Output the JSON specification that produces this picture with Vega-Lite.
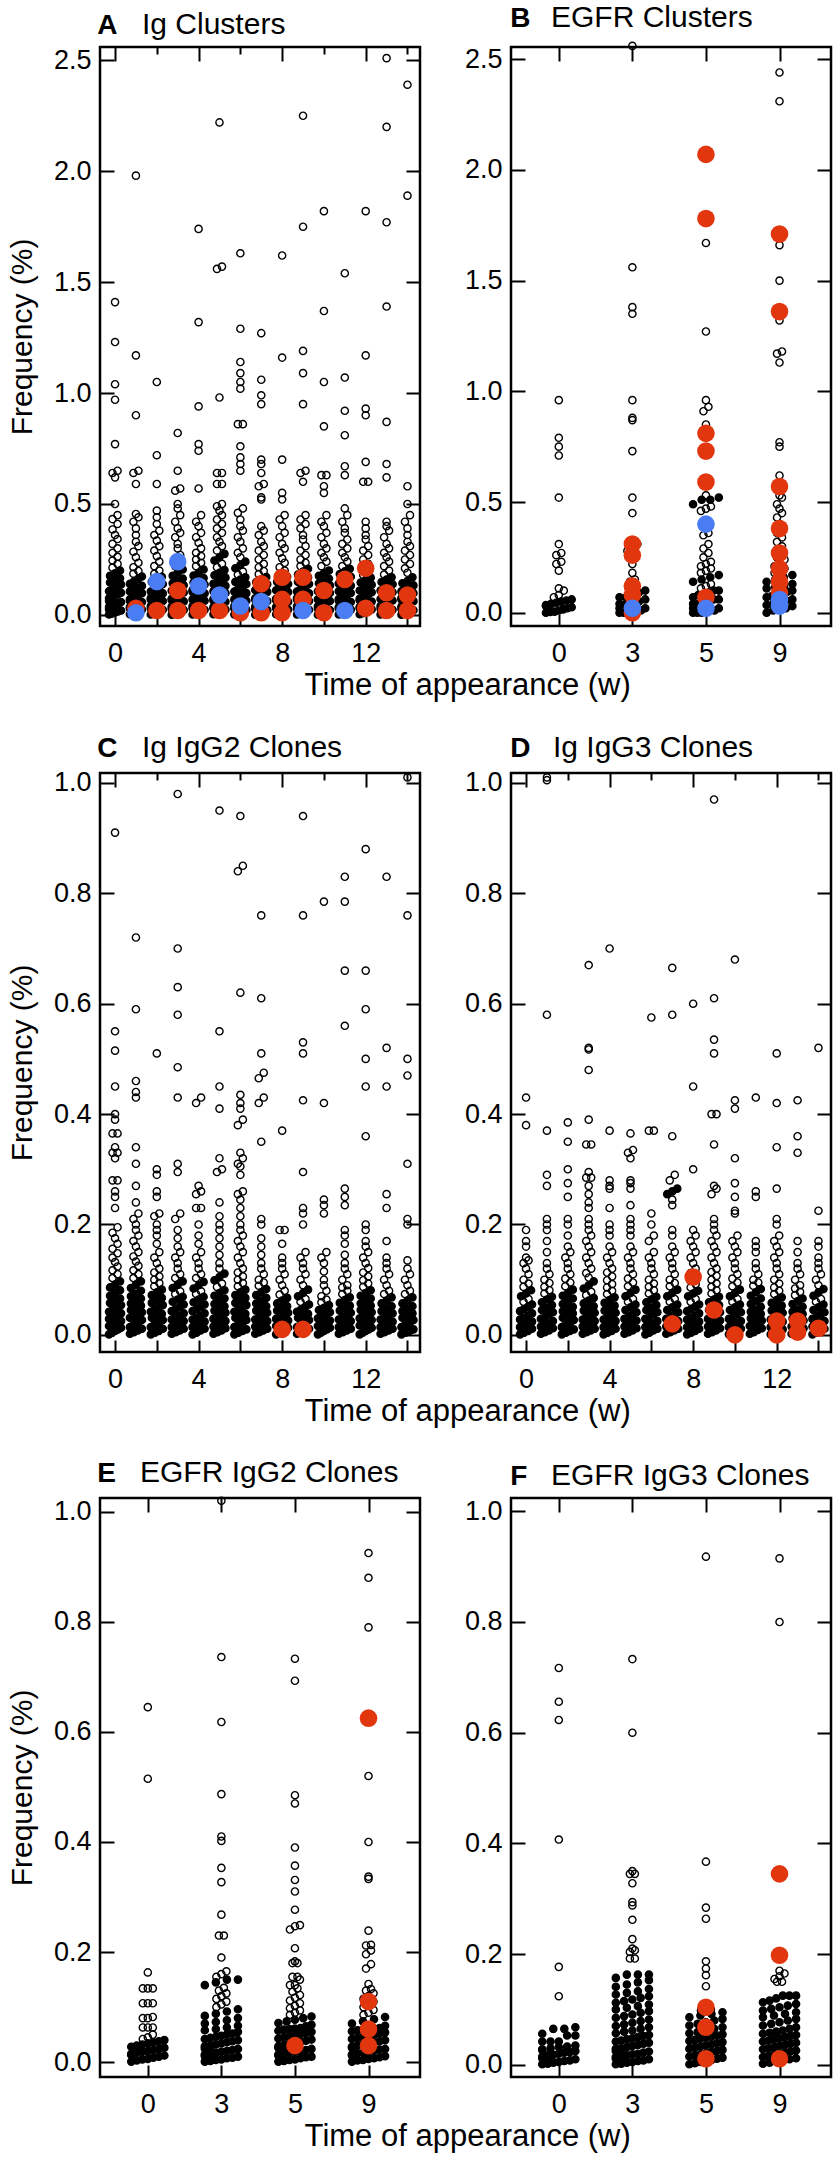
{
  "$schema": "https://vega.github.io/schema/vega-lite/v6.json",
  "background": "white",
  "padding": {"left": 6, "top": 2, "right": 4, "bottom": 2},
  "spacing": 29,
  "config": {
    "font": "Liberation Sans",
    "view": {"stroke": "black", "strokeWidth": 2.5},
    "axis": {"domain": false, "grid": false, "tickColor": "black", "tickWidth": 2, "labelColor": "black", "labelFontSize": 27, "labelFont": "Liberation Sans", "labelFlush": false, "labelOverlap": false, "titleFont": "Liberation Sans", "titleFontSize": 30, "titleFontWeight": "normal", "titleColor": "black"},
    "title": {"font": "Liberation Sans", "color": "black", "anchor": "start", "frame": "group", "fontSize": 30, "fontWeight": "normal", "offset": 6}
  },
  "vconcat": [
    {
      "title": {"text": "Time of appearance (w)", "orient": "bottom", "anchor": "middle", "frame": "bounds", "dx": 48, "fontSize": 31, "fontWeight": "normal", "offset": 4},
      "spacing": 40,
      "hconcat": [
        {
          "title": {"text": "A", "anchor": "start", "frame": "bounds", "fontSize": 28, "fontWeight": "bold", "dx": 91, "offset": -31},
          "vconcat": [
            {
              "width": 320, "height": 579,
              "title": {"text": "Ig Clusters", "dx": 42},
              "resolve": {"axis": {"x": "independent", "y": "independent"}},
              "layer": [
                {
                  "data": {"values": "w,f\n0,.002\n0,.006\n0,.011\n0,.016\n0,.02\n0,.025\n0,.031\n0,.036\n0,.041\n0,.047\n0,.052\n0,.058\n0,.063\n0,.069\n0,.075\n0,.081\n0,.087\n0,.093\n0,.1\n0,.107\n0,.114\n0,.121\n0,.129\n0,.137\n0,.146\n0,.155\n0,.165\n0,.176\n0,.188\n0,.2\n0,.213\n0,.23\n0,.245\n0,.262\n0,.28\n0,.3\n0,.32\n0,.342\n0,.36\n0,.385\n0,.41\n0,.432\n0,.45\n0,.5\n0,.62\n0,.64\n0,.65\n0,.77\n0,.97\n0,1.04\n0,1.23\n0,1.41\n1,.003\n1,.008\n1,.013\n1,.018\n1,.024\n1,.029\n1,.035\n1,.04\n1,.046\n1,.052\n1,.058\n1,.064\n1,.07\n1,.077\n1,.084\n1,.091\n1,.098\n1,.106\n1,.114\n1,.122\n1,.131\n1,.14\n1,.15\n1,.161\n1,.173\n1,.186\n1,.198\n1,.215\n1,.235\n1,.26\n1,.285\n1,.31\n1,.33\n1,.36\n1,.39\n1,.42\n1,.44\n1,.455\n1,.59\n1,.64\n1,.65\n1,.9\n1,1.17\n1,1.98\n2,.002\n2,.007\n2,.012\n2,.017\n2,.023\n2,.028\n2,.034\n2,.04\n2,.045\n2,.051\n2,.057\n2,.063\n2,.069\n2,.076\n2,.083\n2,.09\n2,.097\n2,.105\n2,.113\n2,.121\n2,.13\n2,.139\n2,.149\n2,.16\n2,.172\n2,.185\n2,.2\n2,.22\n2,.24\n2,.265\n2,.29\n2,.31\n2,.335\n2,.36\n2,.38\n2,.41\n2,.44\n2,.47\n2,.59\n2,.72\n2,1.05\n3,.001\n3,.006\n3,.011\n3,.017\n3,.022\n3,.027\n3,.033\n3,.038\n3,.044\n3,.05\n3,.055\n3,.061\n3,.067\n3,.073\n3,.08\n3,.087\n3,.094\n3,.101\n3,.109\n3,.117\n3,.125\n3,.134\n3,.143\n3,.153\n3,.164\n3,.176\n3,.19\n3,.205\n3,.22\n3,.235\n3,.25\n3,.27\n3,.3\n3,.32\n3,.35\n3,.37\n3,.39\n3,.42\n3,.45\n3,.48\n3,.5\n3,.56\n3,.57\n3,.65\n3,.82\n4,.002\n4,.007\n4,.012\n4,.018\n4,.023\n4,.029\n4,.034\n4,.04\n4,.046\n4,.052\n4,.058\n4,.064\n4,.07\n4,.076\n4,.083\n4,.09\n4,.097\n4,.104\n4,.112\n4,.12\n4,.128\n4,.137\n4,.146\n4,.156\n4,.166\n4,.177\n4,.19\n4,.205\n4,.22\n4,.235\n4,.25\n4,.265\n4,.28\n4,.3\n4,.325\n4,.35\n4,.37\n4,.4\n4,.42\n4,.45\n4,.57\n4,.74\n4,.77\n4,.94\n4,1.32\n4,1.74\n5,.003\n5,.008\n5,.013\n5,.019\n5,.024\n5,.03\n5,.035\n5,.041\n5,.047\n5,.053\n5,.059\n5,.065\n5,.071\n5,.078\n5,.085\n5,.092\n5,.099\n5,.107\n5,.115\n5,.123\n5,.131\n5,.14\n5,.149\n5,.158\n5,.168\n5,.179\n5,.19\n5,.202\n5,.215\n5,.23\n5,.245\n5,.26\n5,.275\n5,.29\n5,.31\n5,.33\n5,.35\n5,.37\n5,.39\n5,.41\n5,.43\n5,.45\n5,.47\n5,.49\n5,.5\n5,.59\n5,.59\n5,.64\n5,.64\n5,.98\n5,1.56\n5,1.57\n5,2.22\n6,.002\n6,.007\n6,.012\n6,.018\n6,.023\n6,.029\n6,.034\n6,.04\n6,.046\n6,.052\n6,.058\n6,.064\n6,.07\n6,.077\n6,.084\n6,.091\n6,.098\n6,.105\n6,.113\n6,.121\n6,.13\n6,.139\n6,.149\n6,.159\n6,.17\n6,.182\n6,.195\n6,.21\n6,.225\n6,.24\n6,.26\n6,.28\n6,.3\n6,.33\n6,.35\n6,.38\n6,.4\n6,.43\n6,.46\n6,.48\n6,.65\n6,.68\n6,.71\n6,.76\n6,.86\n6,.86\n6,1.02\n6,1.05\n6,1.09\n6,1.14\n6,1.29\n6,1.63\n7,.001\n7,.006\n7,.011\n7,.016\n7,.022\n7,.027\n7,.032\n7,.038\n7,.044\n7,.05\n7,.056\n7,.062\n7,.068\n7,.075\n7,.082\n7,.089\n7,.096\n7,.104\n7,.112\n7,.12\n7,.129\n7,.138\n7,.148\n7,.159\n7,.171\n7,.184\n7,.198\n7,.215\n7,.23\n7,.25\n7,.27\n7,.29\n7,.31\n7,.33\n7,.36\n7,.38\n7,.4\n7,.52\n7,.53\n7,.58\n7,.59\n7,.64\n7,.68\n7,.7\n7,.95\n7,.99\n7,1.06\n7,1.27\n8,.003\n8,.008\n8,.013\n8,.019\n8,.024\n8,.03\n8,.035\n8,.041\n8,.047\n8,.053\n8,.059\n8,.066\n8,.073\n8,.08\n8,.087\n8,.095\n8,.103\n8,.111\n8,.12\n8,.129\n8,.139\n8,.149\n8,.16\n8,.172\n8,.185\n8,.2\n8,.215\n8,.235\n8,.255\n8,.28\n8,.3\n8,.32\n8,.35\n8,.37\n8,.4\n8,.43\n8,.45\n8,.52\n8,.55\n8,.7\n8,1.16\n8,1.62\n9,.002\n9,.007\n9,.012\n9,.017\n9,.023\n9,.028\n9,.034\n9,.039\n9,.045\n9,.051\n9,.057\n9,.063\n9,.069\n9,.076\n9,.083\n9,.09\n9,.097\n9,.105\n9,.113\n9,.121\n9,.13\n9,.139\n9,.149\n9,.159\n9,.17\n9,.182\n9,.195\n9,.208\n9,.22\n9,.235\n9,.25\n9,.27\n9,.29\n9,.31\n9,.34\n9,.36\n9,.39\n9,.41\n9,.43\n9,.45\n9,.6\n9,.64\n9,.65\n9,.95\n9,1.09\n9,1.19\n9,1.75\n9,2.25\n10,.001\n10,.006\n10,.012\n10,.017\n10,.022\n10,.028\n10,.033\n10,.039\n10,.045\n10,.051\n10,.057\n10,.063\n10,.07\n10,.077\n10,.084\n10,.091\n10,.099\n10,.107\n10,.115\n10,.124\n10,.133\n10,.143\n10,.153\n10,.164\n10,.176\n10,.188\n10,.2\n10,.22\n10,.24\n10,.26\n10,.28\n10,.3\n10,.32\n10,.35\n10,.37\n10,.4\n10,.42\n10,.45\n10,.55\n10,.58\n10,.63\n10,.63\n10,.85\n10,1.05\n10,1.37\n10,1.82\n11,.002\n11,.008\n11,.013\n11,.018\n11,.024\n11,.029\n11,.035\n11,.041\n11,.046\n11,.052\n11,.058\n11,.064\n11,.071\n11,.078\n11,.085\n11,.092\n11,.099\n11,.107\n11,.115\n11,.123\n11,.132\n11,.141\n11,.151\n11,.161\n11,.172\n11,.184\n11,.196\n11,.208\n11,.22\n11,.24\n11,.26\n11,.28\n11,.3\n11,.32\n11,.34\n11,.37\n11,.39\n11,.42\n11,.45\n11,.48\n11,.63\n11,.67\n11,.81\n11,.92\n11,1.07\n11,1.54\n12,.003\n12,.008\n12,.014\n12,.019\n12,.025\n12,.03\n12,.036\n12,.042\n12,.048\n12,.054\n12,.06\n12,.066\n12,.073\n12,.08\n12,.087\n12,.094\n12,.102\n12,.11\n12,.118\n12,.127\n12,.136\n12,.146\n12,.157\n12,.168\n12,.18\n12,.193\n12,.21\n12,.23\n12,.25\n12,.27\n12,.29\n12,.31\n12,.34\n12,.36\n12,.39\n12,.42\n12,.6\n12,.6\n12,.69\n12,.9\n12,.93\n12,1.17\n12,1.82\n13,.002\n13,.007\n13,.012\n13,.017\n13,.023\n13,.028\n13,.034\n13,.04\n13,.046\n13,.052\n13,.058\n13,.065\n13,.072\n13,.079\n13,.086\n13,.094\n13,.102\n13,.11\n13,.119\n13,.128\n13,.138\n13,.148\n13,.159\n13,.17\n13,.182\n13,.2\n13,.22\n13,.24\n13,.26\n13,.28\n13,.3\n13,.32\n13,.35\n13,.38\n13,.4\n13,.42\n13,.62\n13,.68\n13,.87\n13,1.39\n13,1.77\n13,2.2\n13,2.51\n14,.001\n14,.006\n14,.011\n14,.016\n14,.021\n14,.027\n14,.032\n14,.038\n14,.044\n14,.05\n14,.056\n14,.062\n14,.069\n14,.076\n14,.083\n14,.09\n14,.098\n14,.106\n14,.115\n14,.124\n14,.133\n14,.143\n14,.153\n14,.17\n14,.19\n14,.21\n14,.23\n14,.25\n14,.27\n14,.29\n14,.31\n14,.33\n14,.36\n14,.39\n14,.42\n14,.45\n14,.5\n14,.58\n14,1.89\n14,2.39", "format": {"type": "csv", "parse": {"w": "number", "f": "number"}}},
                  "transform": [
                    {"bin": {"step": 0.035}, "field": "f", "as": "fb"},
                    {"window": [{"op": "row_number", "as": "r"}], "groupby": ["w", "fb"], "sort": [{"field": "f", "order": "ascending"}]},
                    {"joinaggregate": [{"op": "count", "as": "n"}], "groupby": ["w", "fb"]},
                    {"calculate": "min(datum.n, 5)", "as": "k"},
                    {"calculate": "datum.w + ((datum.r - 1) % 5 - (datum.k - 1) / 2) * (datum.k <= 3 ? 0.24 : 0.575 / (datum.k - 1))", "as": "x"}
                  ],
                  "mark": {"type": "point", "shape": "circle", "filled": false, "stroke": "black", "strokeWidth": 1.4, "size": 52, "opacity": 1},
                  "encoding": {
                    "x": {"field": "x", "type": "quantitative", "scale": {"domain": [-0.72, 14.6], "nice": false, "zero": false}, "axis": {"orient": "bottom", "values": [0, 2, 4, 6, 8, 10, 12, 14], "labelExpr": "datum.value % 4 == 0 ? datum.label : ''", "tickSize": -12, "labelPadding": 26, "title": null}},
                    "y": {"field": "f", "type": "quantitative", "scale": {"domain": [-0.05, 2.56], "nice": false, "zero": false}, "axis": {"orient": "left", "values": [0, 0.5, 1, 1.5, 2, 2.5], "format": ".1f", "tickSize": -14, "labelPadding": 23, "title": "Frequency (%)", "titlePadding": 16}},
                    "fill": {"condition": {"test": "datum.k >= 3", "value": "black"}, "value": "transparent"}
                  }
                },
                {
                  "data": {"values": "w,f,c\n1,.03,r\n2,.02,r\n3,.11,r\n3,.02,r\n4,.02,r\n5,.02,r\n6,.01,r\n7,.14,r\n7,.01,r\n8,.17,r\n8,.07,r\n8,.01,r\n9,.17,r\n9,.07,r\n10,.11,r\n10,.01,r\n11,.16,r\n12,.21,r\n12,.03,r\n13,.1,r\n13,.02,r\n14,.09,r\n14,.02,r\n1,.01,b\n2,.15,b\n3,.24,b\n4,.13,b\n5,.09,b\n6,.04,b\n7,.06,b\n9,.02,b\n11,.02,b", "format": {"type": "csv", "parse": {"w": "number", "f": "number"}}},
                  "mark": {"type": "circle", "size": 310, "opacity": 1},
                  "encoding": {
                    "x": {"field": "w", "type": "quantitative", "axis": {"orient": "top", "values": [0, 2, 4, 6, 8, 10, 12, 14], "labels": false, "tickSize": {"condition": {"test": "datum.value % 4 == 0", "value": -14}, "value": -7}, "title": null}},
                    "y": {"field": "f", "type": "quantitative", "axis": {"orient": "right", "values": [0, 0.5, 1, 1.5, 2, 2.5], "labels": false, "tickSize": -14, "title": null}},
                    "color": {"field": "c", "type": "nominal", "scale": {"domain": ["r", "b"], "range": ["#e2360f", "#4a7cf3"]}, "legend": null}
                  }
                }
              ]
            }
          ]
        },
        {
          "title": {"text": "B", "anchor": "start", "frame": "bounds", "fontSize": 28, "fontWeight": "bold", "dx": 47, "offset": -31},
          "vconcat": [
            {
              "width": 320, "height": 579,
              "title": {"text": "EGFR Clusters", "dx": 40},
              "resolve": {"axis": {"x": "independent", "y": "independent"}},
              "layer": [
                {
                  "data": {"values": "w,f\n0,.96\n0,.79\n0,.75\n0,.71\n0,.52\n0,.31\n0,.27\n0,.26\n0,.23\n0,.22\n0,.19\n0,.11\n0,.1\n0,.08\n0,.07\n0,.06\n0,.055\n0,.05\n0,.045\n0,.04\n0,.035\n0,.03\n0,.025\n0,.02\n0,.015\n0,.01\n0,.005\n0,.003\n0,0\n3,2.56\n3,1.56\n3,1.38\n3,1.35\n3,.96\n3,.88\n3,.87\n3,.73\n3,.52\n3,.45\n3,.31\n3,.3\n3,.28\n3,.22\n3,.18\n3,.15\n3,.14\n3,.12\n3,.11\n3,.1\n3,.09\n3,.08\n3,.07\n3,.07\n3,.06\n3,.05\n3,.05\n3,.04\n3,.04\n3,.03\n3,.03\n3,.02\n3,.02\n3,.02\n3,.01\n3,.01\n3,.01\n3,0\n3,0\n3,0\n5,1.67\n5,1.27\n5,.96\n5,.93\n5,.91\n5,.85\n5,.6\n5,.59\n5,.53\n5,.52\n5,.51\n5,.51\n5,.49\n5,.48\n5,.47\n5,.46\n5,.36\n5,.35\n5,.31\n5,.29\n5,.27\n5,.25\n5,.23\n5,.22\n5,.21\n5,.2\n5,.19\n5,.18\n5,.17\n5,.16\n5,.15\n5,.14\n5,.13\n5,.12\n5,.11\n5,.1\n5,.1\n5,.09\n5,.08\n5,.08\n5,.07\n5,.06\n5,.06\n5,.05\n5,.05\n5,.04\n5,.04\n5,.03\n5,.03\n5,.02\n5,.02\n5,.02\n5,.01\n5,.01\n5,.01\n5,0\n5,0\n5,0\n9,2.44\n9,2.31\n9,1.66\n9,1.5\n9,1.32\n9,1.18\n9,1.17\n9,1.13\n9,.77\n9,.75\n9,.62\n9,.56\n9,.53\n9,.52\n9,.49\n9,.47\n9,.45\n9,.43\n9,.4\n9,.38\n9,.36\n9,.34\n9,.32\n9,.3\n9,.28\n9,.27\n9,.25\n9,.24\n9,.22\n9,.21\n9,.2\n9,.19\n9,.18\n9,.17\n9,.16\n9,.15\n9,.14\n9,.13\n9,.12\n9,.11\n9,.1\n9,.09\n9,.08\n9,.07\n9,.06\n9,.05\n9,.04\n9,.03\n9,.02\n9,.01\n9,0\n9,.015\n9,.035\n9,.055\n9,.075\n9,.095\n9,.115", "format": {"type": "csv", "parse": {"w": "number", "f": "number"}}},
                  "transform": [
                    {"bin": {"step": 0.035}, "field": "f", "as": "fb"},
                    {"window": [{"op": "row_number", "as": "r"}], "groupby": ["w", "fb"], "sort": [{"field": "f", "order": "ascending"}]},
                    {"joinaggregate": [{"op": "count", "as": "n"}], "groupby": ["w", "fb"]},
                    {"calculate": "min(datum.n, 7)", "as": "k"},
                    {"calculate": "indexof([0, 3, 5, 9], datum.w) + ((datum.r - 1) % 7 - (datum.k - 1) / 2) * (datum.k <= 3 ? 0.068 : 0.35 / (datum.k - 1))", "as": "x"}
                  ],
                  "mark": {"type": "point", "shape": "circle", "filled": false, "stroke": "black", "strokeWidth": 1.4, "size": 52, "opacity": 1},
                  "encoding": {
                    "x": {"field": "x", "type": "quantitative", "scale": {"domain": [-0.65, 3.7], "nice": false, "zero": false}, "axis": {"orient": "bottom", "values": [0, 1, 2, 3], "labelExpr": "['0', '3', '5', '9'][datum.value]", "tickSize": -12, "labelPadding": 26, "title": null}},
                    "y": {"field": "f", "type": "quantitative", "scale": {"domain": [-0.06, 2.555], "nice": false, "zero": false}, "axis": {"orient": "left", "values": [0, 0.5, 1, 1.5, 2, 2.5], "format": ".1f", "tickSize": -14, "labelPadding": 23, "title": null}},
                    "fill": {"condition": {"test": "datum.k >= 4", "value": "black"}, "value": "transparent"}
                  }
                },
                {
                  "data": {"values": "w,f,c\n3,.31,r\n3,.26,r\n3,.12,r\n3,.08,r\n3,0,r\n5,2.07,r\n5,1.78,r\n5,.81,r\n5,.73,r\n5,.59,r\n5,.07,r\n9,1.71,r\n9,1.36,r\n9,.57,r\n9,.38,r\n9,.27,r\n9,.2,r\n9,.14,r\n9,.09,r\n3,.02,b\n5,.4,b\n5,.02,b\n9,.06,b\n9,.03,b", "format": {"type": "csv", "parse": {"w": "number", "f": "number"}}},
                  "transform": [{"calculate": "indexof([0, 3, 5, 9], datum.w)", "as": "x"}],
                  "mark": {"type": "circle", "size": 310, "opacity": 1},
                  "encoding": {
                    "x": {"field": "x", "type": "quantitative", "axis": {"orient": "top", "values": [0, 1, 2, 3], "labels": false, "tickSize": -14, "title": null}},
                    "y": {"field": "f", "type": "quantitative", "axis": {"orient": "right", "values": [0, 0.5, 1, 1.5, 2, 2.5], "labels": false, "tickSize": -14, "title": null}},
                    "color": {"field": "c", "type": "nominal", "scale": {"domain": ["r", "b"], "range": ["#e2360f", "#4a7cf3"]}, "legend": null}
                  }
                }
              ]
            }
          ]
        }
      ]
    },
    {
      "title": {"text": "Time of appearance (w)", "orient": "bottom", "anchor": "middle", "frame": "bounds", "dx": 48, "fontSize": 31, "fontWeight": "normal", "offset": 4},
      "spacing": 40,
      "hconcat": [
        {
          "title": {"text": "C", "anchor": "start", "frame": "bounds", "fontSize": 28, "fontWeight": "bold", "dx": 91, "offset": -31},
          "vconcat": [
            {
              "width": 320, "height": 579,
              "title": {"text": "Ig IgG2 Clones", "dx": 42},
              "resolve": {"axis": {"x": "independent", "y": "independent"}},
              "layer": [
                {
                  "data": {"values": "w,f\n0,.001\n0,.004\n0,.007\n0,.01\n0,.013\n0,.016\n0,.019\n0,.022\n0,.025\n0,.029\n0,.032\n0,.035\n0,.039\n0,.042\n0,.046\n0,.05\n0,.054\n0,.058\n0,.062\n0,.066\n0,.071\n0,.076\n0,.081\n0,.086\n0,.091\n0,.097\n0,.103\n0,.11\n0,.117\n0,.124\n0,.132\n0,.14\n0,.148\n0,.156\n0,.165\n0,.175\n0,.185\n0,.195\n0,.23\n0,.25\n0,.26\n0,.28\n0,.28\n0,.32\n0,.33\n0,.33\n0,.34\n0,.365\n0,.365\n0,.39\n0,.4\n0,.45\n0,.515\n0,.55\n0,.91\n1,.002\n1,.005\n1,.008\n1,.011\n1,.014\n1,.017\n1,.021\n1,.024\n1,.027\n1,.031\n1,.034\n1,.038\n1,.041\n1,.045\n1,.049\n1,.053\n1,.057\n1,.061\n1,.066\n1,.07\n1,.075\n1,.08\n1,.085\n1,.091\n1,.097\n1,.103\n1,.11\n1,.117\n1,.125\n1,.133\n1,.142\n1,.15\n1,.16\n1,.17\n1,.18\n1,.19\n1,.2\n1,.21\n1,.22\n1,.24\n1,.27\n1,.31\n1,.34\n1,.43\n1,.44\n1,.46\n1,.59\n1,.72\n2,.001\n2,.004\n2,.007\n2,.011\n2,.014\n2,.017\n2,.02\n2,.024\n2,.027\n2,.031\n2,.034\n2,.038\n2,.042\n2,.046\n2,.05\n2,.054\n2,.058\n2,.063\n2,.067\n2,.072\n2,.077\n2,.082\n2,.088\n2,.094\n2,.1\n2,.106\n2,.113\n2,.12\n2,.13\n2,.14\n2,.15\n2,.165\n2,.18\n2,.19\n2,.2\n2,.215\n2,.22\n2,.25\n2,.26\n2,.29\n2,.3\n2,.51\n3,.002\n3,.005\n3,.008\n3,.011\n3,.014\n3,.018\n3,.021\n3,.025\n3,.028\n3,.032\n3,.035\n3,.039\n3,.043\n3,.047\n3,.051\n3,.055\n3,.06\n3,.064\n3,.069\n3,.074\n3,.079\n3,.085\n3,.091\n3,.097\n3,.103\n3,.11\n3,.12\n3,.13\n3,.14\n3,.15\n3,.16\n3,.175\n3,.19\n3,.21\n3,.22\n3,.295\n3,.31\n3,.43\n3,.485\n3,.58\n3,.63\n3,.7\n3,.98\n4,.001\n4,.004\n4,.008\n4,.011\n4,.014\n4,.017\n4,.021\n4,.024\n4,.028\n4,.031\n4,.035\n4,.039\n4,.043\n4,.047\n4,.051\n4,.055\n4,.059\n4,.064\n4,.069\n4,.074\n4,.079\n4,.084\n4,.09\n4,.096\n4,.103\n4,.11\n4,.12\n4,.13\n4,.14\n4,.15\n4,.165\n4,.18\n4,.2\n4,.23\n4,.23\n4,.255\n4,.26\n4,.27\n4,.42\n4,.43\n5,.002\n5,.005\n5,.008\n5,.012\n5,.015\n5,.018\n5,.022\n5,.025\n5,.029\n5,.032\n5,.036\n5,.04\n5,.044\n5,.048\n5,.052\n5,.056\n5,.061\n5,.066\n5,.071\n5,.076\n5,.081\n5,.087\n5,.093\n5,.099\n5,.105\n5,.111\n5,.12\n5,.13\n5,.145\n5,.16\n5,.175\n5,.19\n5,.2\n5,.215\n5,.24\n5,.295\n5,.3\n5,.32\n5,.41\n5,.45\n5,.55\n5,.95\n6,.001\n6,.004\n6,.007\n6,.01\n6,.014\n6,.017\n6,.02\n6,.024\n6,.027\n6,.031\n6,.034\n6,.038\n6,.042\n6,.046\n6,.05\n6,.054\n6,.058\n6,.063\n6,.067\n6,.072\n6,.077\n6,.082\n6,.088\n6,.094\n6,.1\n6,.106\n6,.113\n6,.12\n6,.13\n6,.14\n6,.15\n6,.16\n6,.17\n6,.18\n6,.19\n6,.2\n6,.215\n6,.23\n6,.245\n6,.255\n6,.26\n6,.29\n6,.305\n6,.31\n6,.32\n6,.33\n6,.38\n6,.39\n6,.41\n6,.42\n6,.435\n6,.62\n6,.84\n6,.85\n6,.94\n7,.002\n7,.005\n7,.008\n7,.011\n7,.015\n7,.018\n7,.021\n7,.025\n7,.028\n7,.032\n7,.036\n7,.04\n7,.044\n7,.048\n7,.052\n7,.057\n7,.062\n7,.067\n7,.072\n7,.077\n7,.083\n7,.089\n7,.095\n7,.1\n7,.11\n7,.12\n7,.13\n7,.145\n7,.16\n7,.175\n7,.2\n7,.21\n7,.35\n7,.42\n7,.43\n7,.465\n7,.475\n7,.51\n7,.61\n7,.76\n8,.001\n8,.004\n8,.007\n8,.01\n8,.013\n8,.016\n8,.019\n8,.022\n8,.026\n8,.029\n8,.033\n8,.036\n8,.04\n8,.044\n8,.048\n8,.052\n8,.057\n8,.062\n8,.067\n8,.073\n8,.08\n8,.09\n8,.1\n8,.11\n8,.12\n8,.13\n8,.14\n8,.165\n8,.19\n8,.19\n8,.37\n9,.002\n9,.005\n9,.008\n9,.011\n9,.014\n9,.017\n9,.02\n9,.024\n9,.027\n9,.031\n9,.034\n9,.038\n9,.042\n9,.046\n9,.05\n9,.055\n9,.06\n9,.065\n9,.07\n9,.076\n9,.082\n9,.09\n9,.1\n9,.11\n9,.12\n9,.13\n9,.14\n9,.15\n9,.2\n9,.22\n9,.23\n9,.295\n9,.425\n9,.51\n9,.53\n9,.76\n9,.94\n10,.001\n10,.004\n10,.007\n10,.01\n10,.013\n10,.016\n10,.019\n10,.023\n10,.026\n10,.03\n10,.033\n10,.037\n10,.041\n10,.045\n10,.049\n10,.054\n10,.059\n10,.064\n10,.07\n10,.08\n10,.09\n10,.1\n10,.115\n10,.13\n10,.14\n10,.15\n10,.22\n10,.235\n10,.245\n10,.42\n10,.785\n11,.002\n11,.005\n11,.008\n11,.011\n11,.014\n11,.018\n11,.021\n11,.025\n11,.028\n11,.032\n11,.036\n11,.04\n11,.044\n11,.048\n11,.053\n11,.058\n11,.063\n11,.068\n11,.074\n11,.08\n11,.086\n11,.09\n11,.1\n11,.11\n11,.12\n11,.13\n11,.145\n11,.165\n11,.18\n11,.19\n11,.235\n11,.25\n11,.265\n11,.56\n11,.66\n11,.785\n11,.83\n12,.001\n12,.004\n12,.007\n12,.01\n12,.013\n12,.017\n12,.02\n12,.023\n12,.027\n12,.03\n12,.034\n12,.037\n12,.041\n12,.045\n12,.049\n12,.053\n12,.057\n12,.062\n12,.066\n12,.071\n12,.076\n12,.081\n12,.087\n12,.093\n12,.099\n12,.106\n12,.113\n12,.121\n12,.13\n12,.14\n12,.15\n12,.16\n12,.17\n12,.19\n12,.2\n12,.36\n12,.45\n12,.5\n12,.59\n12,.66\n12,.88\n13,.002\n13,.005\n13,.008\n13,.011\n13,.014\n13,.017\n13,.021\n13,.024\n13,.028\n13,.031\n13,.035\n13,.039\n13,.043\n13,.047\n13,.052\n13,.057\n13,.062\n13,.068\n13,.074\n13,.08\n13,.09\n13,.1\n13,.11\n13,.12\n13,.13\n13,.14\n13,.17\n13,.23\n13,.255\n13,.45\n13,.52\n13,.83\n14,.001\n14,.004\n14,.007\n14,.01\n14,.014\n14,.017\n14,.02\n14,.024\n14,.027\n14,.031\n14,.035\n14,.039\n14,.043\n14,.047\n14,.052\n14,.057\n14,.062\n14,.068\n14,.074\n14,.08\n14,.09\n14,.1\n14,.11\n14,.12\n14,.135\n14,.2\n14,.21\n14,.31\n14,.47\n14,.5\n14,.76\n14,1.01", "format": {"type": "csv", "parse": {"w": "number", "f": "number"}}},
                  "transform": [
                    {"bin": {"step": 0.014}, "field": "f", "as": "fb"},
                    {"window": [{"op": "row_number", "as": "r"}], "groupby": ["w", "fb"], "sort": [{"field": "f", "order": "ascending"}]},
                    {"joinaggregate": [{"op": "count", "as": "n"}], "groupby": ["w", "fb"]},
                    {"calculate": "min(datum.n, 5)", "as": "k"},
                    {"calculate": "datum.w + ((datum.r - 1) % 5 - (datum.k - 1) / 2) * (datum.k <= 3 ? 0.24 : 0.575 / (datum.k - 1))", "as": "x"}
                  ],
                  "mark": {"type": "point", "shape": "circle", "filled": false, "stroke": "black", "strokeWidth": 1.4, "size": 52, "opacity": 1},
                  "encoding": {
                    "x": {"field": "x", "type": "quantitative", "scale": {"domain": [-0.72, 14.6], "nice": false, "zero": false}, "axis": {"orient": "bottom", "values": [0, 2, 4, 6, 8, 10, 12, 14], "labelExpr": "datum.value % 4 == 0 ? datum.label : ''", "tickSize": -12, "labelPadding": 26, "title": null}},
                    "y": {"field": "f", "type": "quantitative", "scale": {"domain": [-0.031, 1.018], "nice": false, "zero": false}, "axis": {"orient": "left", "values": [0, 0.2, 0.4, 0.6, 0.8, 1], "format": ".1f", "tickSize": -14, "labelPadding": 23, "title": "Frequency (%)", "titlePadding": 16}},
                    "fill": {"condition": {"test": "datum.k >= 3", "value": "black"}, "value": "transparent"}
                  }
                },
                {
                  "data": {"values": "w,f,c\n8,.01,r\n9,.01,r", "format": {"type": "csv", "parse": {"w": "number", "f": "number"}}},
                  "mark": {"type": "circle", "size": 310, "opacity": 1},
                  "encoding": {
                    "x": {"field": "w", "type": "quantitative", "axis": {"orient": "top", "values": [0, 2, 4, 6, 8, 10, 12, 14], "labels": false, "tickSize": {"condition": {"test": "datum.value % 4 == 0", "value": -14}, "value": -7}, "title": null}},
                    "y": {"field": "f", "type": "quantitative", "axis": {"orient": "right", "values": [0, 0.2, 0.4, 0.6, 0.8, 1], "labels": false, "tickSize": -14, "title": null}},
                    "color": {"field": "c", "type": "nominal", "scale": {"domain": ["r", "b"], "range": ["#e2360f", "#4a7cf3"]}, "legend": null}
                  }
                }
              ]
            }
          ]
        },
        {
          "title": {"text": "D", "anchor": "start", "frame": "bounds", "fontSize": 28, "fontWeight": "bold", "dx": 47, "offset": -31},
          "vconcat": [
            {
              "width": 320, "height": 579,
              "title": {"text": "Ig IgG3 Clones", "dx": 42},
              "resolve": {"axis": {"x": "independent", "y": "independent"}},
              "layer": [
                {
                  "data": {"values": "w,f\n0,.001\n0,.004\n0,.007\n0,.011\n0,.014\n0,.017\n0,.021\n0,.024\n0,.028\n0,.031\n0,.035\n0,.039\n0,.043\n0,.047\n0,.051\n0,.055\n0,.06\n0,.065\n0,.07\n0,.075\n0,.081\n0,.087\n0,.093\n0,.1\n0,.11\n0,.12\n0,.13\n0,.135\n0,.14\n0,.16\n0,.17\n0,.19\n0,.38\n0,.43\n1,.002\n1,.005\n1,.008\n1,.012\n1,.015\n1,.018\n1,.022\n1,.025\n1,.029\n1,.033\n1,.037\n1,.041\n1,.045\n1,.049\n1,.054\n1,.059\n1,.064\n1,.069\n1,.075\n1,.081\n1,.087\n1,.094\n1,.1\n1,.11\n1,.12\n1,.13\n1,.15\n1,.17\n1,.19\n1,.2\n1,.21\n1,.27\n1,.29\n1,.37\n1,.58\n1,1.005\n1,1.01\n2,.001\n2,.004\n2,.007\n2,.01\n2,.014\n2,.017\n2,.02\n2,.024\n2,.027\n2,.031\n2,.035\n2,.039\n2,.043\n2,.047\n2,.051\n2,.056\n2,.061\n2,.066\n2,.071\n2,.076\n2,.082\n2,.088\n2,.095\n2,.102\n2,.11\n2,.12\n2,.13\n2,.14\n2,.15\n2,.16\n2,.18\n2,.2\n2,.21\n2,.25\n2,.275\n2,.3\n2,.35\n2,.385\n3,.002\n3,.005\n3,.008\n3,.011\n3,.015\n3,.018\n3,.021\n3,.025\n3,.028\n3,.032\n3,.036\n3,.04\n3,.044\n3,.048\n3,.052\n3,.057\n3,.062\n3,.067\n3,.072\n3,.078\n3,.084\n3,.09\n3,.097\n3,.104\n3,.112\n3,.12\n3,.13\n3,.14\n3,.15\n3,.16\n3,.17\n3,.18\n3,.19\n3,.2\n3,.21\n3,.23\n3,.24\n3,.255\n3,.27\n3,.285\n3,.285\n3,.295\n3,.345\n3,.345\n3,.39\n3,.48\n3,.517\n3,.52\n3,.67\n4,.001\n4,.004\n4,.007\n4,.011\n4,.014\n4,.018\n4,.021\n4,.025\n4,.028\n4,.032\n4,.036\n4,.04\n4,.044\n4,.048\n4,.053\n4,.058\n4,.063\n4,.068\n4,.074\n4,.08\n4,.086\n4,.092\n4,.099\n4,.106\n4,.113\n4,.12\n4,.13\n4,.14\n4,.15\n4,.16\n4,.18\n4,.19\n4,.2\n4,.23\n4,.265\n4,.27\n4,.28\n4,.37\n4,.7\n5,.002\n5,.005\n5,.008\n5,.012\n5,.015\n5,.019\n5,.022\n5,.026\n5,.029\n5,.033\n5,.037\n5,.041\n5,.045\n5,.05\n5,.055\n5,.06\n5,.065\n5,.07\n5,.076\n5,.082\n5,.088\n5,.095\n5,.102\n5,.11\n5,.12\n5,.13\n5,.14\n5,.15\n5,.16\n5,.18\n5,.19\n5,.2\n5,.21\n5,.235\n5,.265\n5,.275\n5,.28\n5,.32\n5,.33\n5,.335\n5,.365\n6,.001\n6,.004\n6,.008\n6,.011\n6,.014\n6,.018\n6,.021\n6,.025\n6,.029\n6,.033\n6,.037\n6,.041\n6,.045\n6,.049\n6,.054\n6,.059\n6,.064\n6,.069\n6,.075\n6,.081\n6,.087\n6,.093\n6,.1\n6,.11\n6,.12\n6,.13\n6,.14\n6,.15\n6,.17\n6,.18\n6,.2\n6,.22\n6,.37\n6,.37\n6,.575\n7,.002\n7,.005\n7,.008\n7,.011\n7,.015\n7,.018\n7,.022\n7,.025\n7,.029\n7,.033\n7,.037\n7,.041\n7,.045\n7,.05\n7,.055\n7,.06\n7,.065\n7,.07\n7,.076\n7,.082\n7,.088\n7,.094\n7,.1\n7,.11\n7,.12\n7,.13\n7,.14\n7,.15\n7,.16\n7,.18\n7,.19\n7,.235\n7,.245\n7,.255\n7,.26\n7,.265\n7,.28\n7,.29\n7,.36\n7,.58\n7,.665\n8,.001\n8,.004\n8,.007\n8,.011\n8,.014\n8,.017\n8,.021\n8,.024\n8,.028\n8,.031\n8,.035\n8,.039\n8,.043\n8,.047\n8,.051\n8,.055\n8,.06\n8,.065\n8,.07\n8,.075\n8,.08\n8,.086\n8,.092\n8,.098\n8,.105\n8,.112\n8,.12\n8,.13\n8,.14\n8,.15\n8,.16\n8,.17\n8,.18\n8,.19\n8,.3\n8,.45\n8,.6\n9,.002\n9,.005\n9,.008\n9,.012\n9,.015\n9,.019\n9,.022\n9,.026\n9,.029\n9,.033\n9,.037\n9,.041\n9,.045\n9,.049\n9,.054\n9,.059\n9,.064\n9,.069\n9,.075\n9,.081\n9,.087\n9,.093\n9,.1\n9,.107\n9,.114\n9,.12\n9,.13\n9,.14\n9,.15\n9,.16\n9,.17\n9,.18\n9,.19\n9,.2\n9,.21\n9,.255\n9,.265\n9,.27\n9,.345\n9,.4\n9,.4\n9,.51\n9,.535\n9,.61\n9,.97\n10,.001\n10,.004\n10,.007\n10,.011\n10,.014\n10,.018\n10,.021\n10,.025\n10,.029\n10,.033\n10,.037\n10,.041\n10,.045\n10,.05\n10,.055\n10,.06\n10,.065\n10,.07\n10,.076\n10,.082\n10,.088\n10,.095\n10,.102\n10,.11\n10,.12\n10,.13\n10,.14\n10,.15\n10,.16\n10,.17\n10,.18\n10,.22\n10,.225\n10,.25\n10,.275\n10,.32\n10,.41\n10,.425\n10,.68\n11,.002\n11,.005\n11,.009\n11,.012\n11,.016\n11,.019\n11,.023\n11,.026\n11,.03\n11,.034\n11,.038\n11,.042\n11,.046\n11,.051\n11,.056\n11,.061\n11,.066\n11,.071\n11,.077\n11,.083\n11,.089\n11,.095\n11,.1\n11,.11\n11,.12\n11,.13\n11,.15\n11,.16\n11,.17\n11,.25\n11,.26\n11,.43\n12,.001\n12,.004\n12,.007\n12,.01\n12,.014\n12,.017\n12,.021\n12,.024\n12,.028\n12,.032\n12,.036\n12,.04\n12,.044\n12,.048\n12,.053\n12,.058\n12,.063\n12,.068\n12,.074\n12,.08\n12,.086\n12,.093\n12,.1\n12,.11\n12,.12\n12,.13\n12,.14\n12,.15\n12,.16\n12,.17\n12,.18\n12,.2\n12,.21\n12,.265\n12,.34\n12,.42\n12,.51\n13,.002\n13,.005\n13,.008\n13,.012\n13,.015\n13,.019\n13,.022\n13,.026\n13,.03\n13,.034\n13,.038\n13,.042\n13,.046\n13,.051\n13,.056\n13,.061\n13,.066\n13,.072\n13,.078\n13,.084\n13,.09\n13,.1\n13,.11\n13,.12\n13,.13\n13,.15\n13,.17\n13,.33\n13,.36\n13,.425\n14,.001\n14,.004\n14,.008\n14,.011\n14,.015\n14,.018\n14,.022\n14,.025\n14,.029\n14,.033\n14,.037\n14,.041\n14,.045\n14,.05\n14,.055\n14,.06\n14,.065\n14,.071\n14,.077\n14,.083\n14,.09\n14,.1\n14,.11\n14,.12\n14,.13\n14,.14\n14,.16\n14,.17\n14,.225\n14,.52", "format": {"type": "csv", "parse": {"w": "number", "f": "number"}}},
                  "transform": [
                    {"bin": {"step": 0.014}, "field": "f", "as": "fb"},
                    {"window": [{"op": "row_number", "as": "r"}], "groupby": ["w", "fb"], "sort": [{"field": "f", "order": "ascending"}]},
                    {"joinaggregate": [{"op": "count", "as": "n"}], "groupby": ["w", "fb"]},
                    {"calculate": "min(datum.n, 5)", "as": "k"},
                    {"calculate": "datum.w + ((datum.r - 1) % 5 - (datum.k - 1) / 2) * (datum.k <= 3 ? 0.24 : 0.575 / (datum.k - 1))", "as": "x"}
                  ],
                  "mark": {"type": "point", "shape": "circle", "filled": false, "stroke": "black", "strokeWidth": 1.4, "size": 52, "opacity": 1},
                  "encoding": {
                    "x": {"field": "x", "type": "quantitative", "scale": {"domain": [-0.72, 14.6], "nice": false, "zero": false}, "axis": {"orient": "bottom", "values": [0, 2, 4, 6, 8, 10, 12, 14], "labelExpr": "datum.value % 4 == 0 ? datum.label : ''", "tickSize": -12, "labelPadding": 26, "title": null}},
                    "y": {"field": "f", "type": "quantitative", "scale": {"domain": [-0.031, 1.018], "nice": false, "zero": false}, "axis": {"orient": "left", "values": [0, 0.2, 0.4, 0.6, 0.8, 1], "format": ".1f", "tickSize": -14, "labelPadding": 23, "title": null}},
                    "fill": {"condition": {"test": "datum.k >= 3", "value": "black"}, "value": "transparent"}
                  }
                },
                {
                  "data": {"values": "w,f,c\n7,.02,r\n8,.105,r\n9,.045,r\n10,0,r\n12,.025,r\n12,0,r\n13,.025,r\n13,.005,r\n14,.012,r", "format": {"type": "csv", "parse": {"w": "number", "f": "number"}}},
                  "mark": {"type": "circle", "size": 310, "opacity": 1},
                  "encoding": {
                    "x": {"field": "w", "type": "quantitative", "axis": {"orient": "top", "values": [0, 2, 4, 6, 8, 10, 12, 14], "labels": false, "tickSize": {"condition": {"test": "datum.value % 4 == 0", "value": -14}, "value": -7}, "title": null}},
                    "y": {"field": "f", "type": "quantitative", "axis": {"orient": "right", "values": [0, 0.2, 0.4, 0.6, 0.8, 1], "labels": false, "tickSize": -14, "title": null}},
                    "color": {"field": "c", "type": "nominal", "scale": {"domain": ["r", "b"], "range": ["#e2360f", "#4a7cf3"]}, "legend": null}
                  }
                }
              ]
            }
          ]
        }
      ]
    },
    {
      "title": {"text": "Time of appearance (w)", "orient": "bottom", "anchor": "middle", "frame": "bounds", "dx": 48, "fontSize": 31, "fontWeight": "normal", "offset": 4},
      "spacing": 40,
      "hconcat": [
        {
          "title": {"text": "E", "anchor": "start", "frame": "bounds", "fontSize": 28, "fontWeight": "bold", "dx": 91, "offset": -31},
          "vconcat": [
            {
              "width": 320, "height": 579,
              "title": {"text": "EGFR IgG2 Clones", "dx": 40},
              "resolve": {"axis": {"x": "independent", "y": "independent"}},
              "layer": [
                {
                  "data": {"values": "w,f\n0,.001\n0,.003\n0,.005\n0,.006\n0,.008\n0,.01\n0,.012\n0,.013\n0,.015\n0,.017\n0,.019\n0,.02\n0,.022\n0,.024\n0,.026\n0,.028\n0,.03\n0,.032\n0,.034\n0,.036\n0,.038\n0,.04\n0,.042\n0,.045\n0,.05\n0,.063\n0,.063\n0,.063\n0,.08\n0,.08\n0,.082\n0,.107\n0,.107\n0,.107\n0,.134\n0,.134\n0,.134\n0,.163\n0,.515\n0,.645\n3,.001\n3,.002\n3,.004\n3,.005\n3,.007\n3,.008\n3,.01\n3,.011\n3,.013\n3,.014\n3,.016\n3,.017\n3,.019\n3,.02\n3,.022\n3,.024\n3,.025\n3,.027\n3,.029\n3,.03\n3,.032\n3,.034\n3,.036\n3,.038\n3,.04\n3,.042\n3,.044\n3,.046\n3,.048\n3,.05\n3,.052\n3,.055\n3,.058\n3,.06\n3,.063\n3,.066\n3,.07\n3,.073\n3,.076\n3,.08\n3,.084\n3,.088\n3,.092\n3,.096\n3,.1\n3,.105\n3,.11\n3,.115\n3,.12\n3,.125\n3,.13\n3,.135\n3,.14\n3,.145\n3,.15\n3,.15\n3,.155\n3,.16\n3,.165\n3,.19\n3,.23\n3,.23\n3,.268\n3,.327\n3,.353\n3,.402\n3,.41\n3,.487\n3,.618\n3,.736\n3,1.02\n5,.001\n5,.002\n5,.004\n5,.005\n5,.007\n5,.009\n5,.01\n5,.012\n5,.014\n5,.015\n5,.017\n5,.019\n5,.02\n5,.022\n5,.024\n5,.026\n5,.027\n5,.029\n5,.031\n5,.033\n5,.035\n5,.037\n5,.039\n5,.041\n5,.043\n5,.045\n5,.047\n5,.049\n5,.051\n5,.053\n5,.055\n5,.057\n5,.059\n5,.06\n5,.061\n5,.062\n5,.065\n5,.068\n5,.071\n5,.074\n5,.077\n5,.08\n5,.083\n5,.086\n5,.09\n5,.094\n5,.098\n5,.102\n5,.107\n5,.112\n5,.117\n5,.122\n5,.128\n5,.134\n5,.14\n5,.14\n5,.15\n5,.155\n5,.155\n5,.18\n5,.18\n5,.183\n5,.207\n5,.241\n5,.247\n5,.249\n5,.277\n5,.31\n5,.331\n5,.357\n5,.39\n5,.47\n5,.485\n5,.693\n5,.733\n9,.001\n9,.003\n9,.004\n9,.006\n9,.007\n9,.009\n9,.011\n9,.012\n9,.014\n9,.016\n9,.017\n9,.019\n9,.021\n9,.023\n9,.024\n9,.026\n9,.028\n9,.03\n9,.032\n9,.034\n9,.036\n9,.038\n9,.04\n9,.042\n9,.044\n9,.046\n9,.048\n9,.05\n9,.052\n9,.054\n9,.056\n9,.058\n9,.059\n9,.06\n9,.061\n9,.062\n9,.066\n9,.07\n9,.074\n9,.078\n9,.082\n9,.086\n9,.09\n9,.095\n9,.1\n9,.105\n9,.11\n9,.115\n9,.12\n9,.125\n9,.13\n9,.133\n9,.142\n9,.17\n9,.178\n9,.196\n9,.203\n9,.212\n9,.213\n9,.239\n9,.333\n9,.337\n9,.4\n9,.52\n9,.79\n9,.88\n9,.925", "format": {"type": "csv", "parse": {"w": "number", "f": "number"}}},
                  "transform": [
                    {"bin": {"step": 0.014}, "field": "f", "as": "fb"},
                    {"window": [{"op": "row_number", "as": "r"}], "groupby": ["w", "fb"], "sort": [{"field": "f", "order": "ascending"}]},
                    {"joinaggregate": [{"op": "count", "as": "n"}], "groupby": ["w", "fb"]},
                    {"calculate": "min(datum.n, 7)", "as": "k"},
                    {"calculate": "indexof([0, 3, 5, 9], datum.w) + ((datum.r - 1) % 7 - (datum.k - 1) / 2) * (datum.k <= 3 ? 0.068 : 0.45 / (datum.k - 1))", "as": "x"}
                  ],
                  "mark": {"type": "point", "shape": "circle", "filled": false, "stroke": "black", "strokeWidth": 1.4, "size": 52, "opacity": 1},
                  "encoding": {
                    "x": {"field": "x", "type": "quantitative", "scale": {"domain": [-0.65, 3.7], "nice": false, "zero": false}, "axis": {"orient": "bottom", "values": [0, 1, 2, 3], "labelExpr": "['0', '3', '5', '9'][datum.value]", "tickSize": -12, "labelPadding": 26, "title": null}},
                    "y": {"field": "f", "type": "quantitative", "scale": {"domain": [-0.027, 1.025], "nice": false, "zero": false}, "axis": {"orient": "left", "values": [0, 0.2, 0.4, 0.6, 0.8, 1], "format": ".1f", "tickSize": -14, "labelPadding": 23, "title": "Frequency (%)", "titlePadding": 16}},
                    "fill": {"condition": {"test": "datum.k >= 4", "value": "black"}, "value": "transparent"}
                  }
                },
                {
                  "data": {"values": "w,f,c\n5,.03,r\n9,.625,r\n9,.11,r\n9,.06,r\n9,.03,r", "format": {"type": "csv", "parse": {"w": "number", "f": "number"}}},
                  "transform": [{"calculate": "indexof([0, 3, 5, 9], datum.w)", "as": "x"}],
                  "mark": {"type": "circle", "size": 310, "opacity": 1},
                  "encoding": {
                    "x": {"field": "x", "type": "quantitative", "axis": {"orient": "top", "values": [0, 1, 2, 3], "labels": false, "tickSize": -14, "title": null}},
                    "y": {"field": "f", "type": "quantitative", "axis": {"orient": "right", "values": [0, 0.2, 0.4, 0.6, 0.8, 1], "labels": false, "tickSize": -14, "title": null}},
                    "color": {"field": "c", "type": "nominal", "scale": {"domain": ["r", "b"], "range": ["#e2360f", "#4a7cf3"]}, "legend": null}
                  }
                }
              ]
            }
          ]
        },
        {
          "title": {"text": "F", "anchor": "start", "frame": "bounds", "fontSize": 28, "fontWeight": "bold", "dx": 47, "offset": -31},
          "vconcat": [
            {
              "width": 320, "height": 579,
              "title": {"text": "EGFR IgG3 Clones", "dx": 40},
              "resolve": {"axis": {"x": "independent", "y": "independent"}},
              "layer": [
                {
                  "data": {"values": "w,f\n0,.001\n0,.002\n0,.004\n0,.005\n0,.007\n0,.008\n0,.01\n0,.012\n0,.013\n0,.015\n0,.017\n0,.018\n0,.02\n0,.022\n0,.023\n0,.025\n0,.027\n0,.028\n0,.03\n0,.032\n0,.033\n0,.035\n0,.042\n0,.042\n0,.042\n0,.053\n0,.053\n0,.056\n0,.065\n0,.065\n0,.068\n0,.124\n0,.177\n0,.407\n0,.623\n0,.656\n0,.717\n3,.001\n3,.002\n3,.004\n3,.005\n3,.007\n3,.008\n3,.01\n3,.011\n3,.013\n3,.014\n3,.016\n3,.017\n3,.019\n3,.02\n3,.022\n3,.024\n3,.025\n3,.027\n3,.029\n3,.03\n3,.032\n3,.034\n3,.036\n3,.038\n3,.04\n3,.042\n3,.044\n3,.046\n3,.048\n3,.05\n3,.052\n3,.054\n3,.057\n3,.06\n3,.062\n3,.065\n3,.068\n3,.07\n3,.073\n3,.076\n3,.079\n3,.082\n3,.085\n3,.088\n3,.091\n3,.094\n3,.097\n3,.1\n3,.103\n3,.106\n3,.109\n3,.112\n3,.115\n3,.118\n3,.121\n3,.124\n3,.127\n3,.13\n3,.133\n3,.137\n3,.141\n3,.145\n3,.149\n3,.153\n3,.157\n3,.163\n3,.163\n3,.163\n3,.192\n3,.192\n3,.204\n3,.207\n3,.21\n3,.227\n3,.262\n3,.288\n3,.294\n3,.328\n3,.345\n3,.345\n3,.35\n3,.6\n3,.733\n5,.001\n5,.003\n5,.005\n5,.007\n5,.009\n5,.011\n5,.013\n5,.015\n5,.017\n5,.019\n5,.021\n5,.023\n5,.025\n5,.027\n5,.029\n5,.031\n5,.033\n5,.035\n5,.037\n5,.039\n5,.041\n5,.043\n5,.045\n5,.047\n5,.049\n5,.051\n5,.053\n5,.055\n5,.057\n5,.059\n5,.062\n5,.065\n5,.068\n5,.071\n5,.074\n5,.077\n5,.08\n5,.083\n5,.086\n5,.089\n5,.092\n5,.095\n5,.098\n5,.1\n5,.1\n5,.142\n5,.162\n5,.174\n5,.187\n5,.264\n5,.284\n5,.367\n5,.918\n9,.002\n9,.004\n9,.006\n9,.008\n9,.01\n9,.012\n9,.014\n9,.016\n9,.018\n9,.02\n9,.022\n9,.024\n9,.026\n9,.028\n9,.03\n9,.032\n9,.034\n9,.036\n9,.038\n9,.04\n9,.042\n9,.044\n9,.046\n9,.048\n9,.05\n9,.052\n9,.054\n9,.056\n9,.058\n9,.06\n9,.062\n9,.065\n9,.068\n9,.071\n9,.074\n9,.077\n9,.08\n9,.083\n9,.086\n9,.089\n9,.092\n9,.095\n9,.098\n9,.101\n9,.104\n9,.107\n9,.11\n9,.113\n9,.116\n9,.12\n9,.125\n9,.125\n9,.125\n9,.15\n9,.15\n9,.155\n9,.16\n9,.165\n9,.17\n9,.8\n9,.915", "format": {"type": "csv", "parse": {"w": "number", "f": "number"}}},
                  "transform": [
                    {"bin": {"step": 0.014}, "field": "f", "as": "fb"},
                    {"window": [{"op": "row_number", "as": "r"}], "groupby": ["w", "fb"], "sort": [{"field": "f", "order": "ascending"}]},
                    {"joinaggregate": [{"op": "count", "as": "n"}], "groupby": ["w", "fb"]},
                    {"calculate": "min(datum.n, 7)", "as": "k"},
                    {"calculate": "indexof([0, 3, 5, 9], datum.w) + ((datum.r - 1) % 7 - (datum.k - 1) / 2) * (datum.k <= 3 ? 0.068 : 0.45 / (datum.k - 1))", "as": "x"}
                  ],
                  "mark": {"type": "point", "shape": "circle", "filled": false, "stroke": "black", "strokeWidth": 1.4, "size": 52, "opacity": 1},
                  "encoding": {
                    "x": {"field": "x", "type": "quantitative", "scale": {"domain": [-0.65, 3.7], "nice": false, "zero": false}, "axis": {"orient": "bottom", "values": [0, 1, 2, 3], "labelExpr": "['0', '3', '5', '9'][datum.value]", "tickSize": -12, "labelPadding": 26, "title": null}},
                    "y": {"field": "f", "type": "quantitative", "scale": {"domain": [-0.022, 1.024], "nice": false, "zero": false}, "axis": {"orient": "left", "values": [0, 0.2, 0.4, 0.6, 0.8, 1], "format": ".1f", "tickSize": -14, "labelPadding": 23, "title": null}},
                    "fill": {"condition": {"test": "datum.k >= 4", "value": "black"}, "value": "transparent"}
                  }
                },
                {
                  "data": {"values": "w,f,c\n5,.104,r\n5,.068,r\n5,.011,r\n9,.345,r\n9,.198,r\n9,.011,r", "format": {"type": "csv", "parse": {"w": "number", "f": "number"}}},
                  "transform": [{"calculate": "indexof([0, 3, 5, 9], datum.w)", "as": "x"}],
                  "mark": {"type": "circle", "size": 310, "opacity": 1},
                  "encoding": {
                    "x": {"field": "x", "type": "quantitative", "axis": {"orient": "top", "values": [0, 1, 2, 3], "labels": false, "tickSize": -14, "title": null}},
                    "y": {"field": "f", "type": "quantitative", "axis": {"orient": "right", "values": [0, 0.2, 0.4, 0.6, 0.8, 1], "labels": false, "tickSize": -14, "title": null}},
                    "color": {"field": "c", "type": "nominal", "scale": {"domain": ["r", "b"], "range": ["#e2360f", "#4a7cf3"]}, "legend": null}
                  }
                }
              ]
            }
          ]
        }
      ]
    }
  ]
}
